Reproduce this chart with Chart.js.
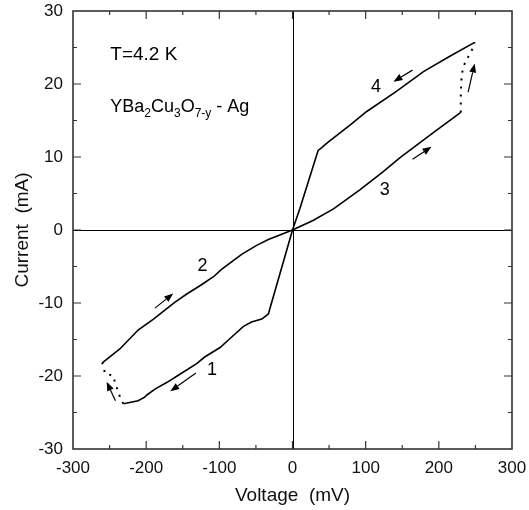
<!DOCTYPE html>
<html>
<head>
<meta charset="utf-8">
<script src="https://cdn.jsdelivr.net/npm/chart.js@4.4.0/dist/chart.umd.min.js"></script>
<style>
  html, body { margin: 0; padding: 0; background: #fff; }
  #wrap { width: 529px; height: 510px; }
</style>
</head>
<body>
<div id="wrap"><canvas id="ivChart"></canvas></div>
<script>
// I-V hysteresis loop (mV, mA)
const branch1V = [0, -33, -42, -56, -67, -88, -99, -120, -131, -156, -172, -188, -199, -202, -211, -231];
const branch1I = [0, -11.5, -12.2, -12.6, -13.2, -15.1, -16.1, -17.4, -18.3, -19.9, -20.9, -21.8, -22.6, -22.9, -23.4, -23.8];

const dotted1V = [-231, -234, -238, -242, -245, -251, -256, -260];
const dotted1I = [-23.8, -23.4, -22.2, -21.1, -20.0, -19.8, -19.7, -18.2];

const branch2V = [-260, -236, -211, -190, -161, -145, -126, -108, -97, -81, -69, -49, -33, 0];
const branch2I = [-18.2, -16.3, -13.7, -12.2, -9.9, -8.8, -7.6, -6.4, -5.4, -4.2, -3.3, -2.1, -1.3, 0];

const branch3V = [0, 28, 56, 74, 92, 124, 147, 192, 230];
const branch3I = [0, 1.3, 2.9, 4.2, 5.5, 8.0, 9.9, 13.3, 16.1];

const dotted2V = [230, 230, 230, 231, 233, 240, 247, 249];
const dotted2I = [16.1, 17.1, 18.7, 20.7, 22.3, 23.7, 25.0, 25.7];

const branch4V = [249, 215, 179, 142, 101, 79, 47, 40, 35, 10, 0];
const branch4I = [25.7, 23.8, 21.7, 19.0, 16.2, 14.4, 11.9, 11.3, 10.9, 2.9, 0];

// direction arrows
const arrowFromV = [-132, -188, 164, 164, 240, -242];
const arrowFromI = [-19.6, -10.7, 9.7, 21.9, 18.9, -23.4];
const arrowToV = [-167, -163, 190, 138, 249, -254];
const arrowToI = [-22.1, -8.7, 11.4, 20.3, 22.8, -20.8];

// branch numbers
const branchLabels = ['1', '2', '3', '4'];
const labelV = [-110, -123, 126, 114];
const labelI = [-19.2, -4.9, 5.5, 19.6];

const xTicks = [-300, -200, -100, 0, 100, 200, 300];
const yTicks = [-30, -20, -10, 0, 10, 20, 30];

function pts(vs, is) {
    return vs.map(function (v, k) { return { x: v, y: is[k] }; });
}

function line(vs, is, dotted) {
    return {
        data: pts(vs, is),
        showLine: true,
        borderColor: '#000',
        borderWidth: dotted ? 2 : 1.6,
        borderDash: dotted ? [2, 6] : [],
        pointRadius: 0,
        tension: 0,
        fill: false
    };
}

const FONT = '"Liberation Sans", Arial, sans-serif';
const FRAME = '#333';

function drawFrame(chart) {
    const c = chart.ctx, a = chart.chartArea;
    const xs = chart.scales.x, ys = chart.scales.y;
    const L = a.left, R = a.right, T = a.top, B = a.bottom;
    c.save();
    c.setLineDash([]);
    c.strokeStyle = '#000';
    c.lineWidth = 1;
    c.beginPath();
    c.moveTo(Math.round(xs.getPixelForValue(0)) + 0.5, T);
    c.lineTo(Math.round(xs.getPixelForValue(0)) + 0.5, B);
    c.moveTo(L, Math.round(ys.getPixelForValue(0)) + 0.5);
    c.lineTo(R, Math.round(ys.getPixelForValue(0)) + 0.5);
    c.stroke();
    // box
    c.strokeStyle = FRAME;
    c.lineWidth = 1.6;
    c.strokeRect(L, T, R - L, B - T);
    // inward ticks
    c.lineWidth = 1.2;
    c.beginPath();
    for (let v = -250; v <= 250; v += 50) {
        const len = (v % 100 === 0) ? 8 : 4;
        const px = xs.getPixelForValue(v);
        c.moveTo(px, B); c.lineTo(px, B - len);
        c.moveTo(px, T); c.lineTo(px, T + len);
    }
    for (let v = -25; v <= 25; v += 5) {
        const len = (v % 10 === 0) ? 8 : 4;
        const py = ys.getPixelForValue(v);
        c.moveTo(L, py); c.lineTo(L + len, py);
        c.moveTo(R, py); c.lineTo(R - len, py);
    }
    c.stroke();
    c.restore();
}

function drawNotes(chart) {
    const c = chart.ctx;
    const xs = chart.scales.x, ys = chart.scales.y;
    c.save();
    c.setLineDash([]);
    c.fillStyle = '#000';
    c.strokeStyle = '#000';
    c.lineWidth = 1.2;
    for (let k = 0; k < arrowFromV.length; k++) {
        const x0 = xs.getPixelForValue(arrowFromV[k]), y0 = ys.getPixelForValue(arrowFromI[k]);
        const x1 = xs.getPixelForValue(arrowToV[k]), y1 = ys.getPixelForValue(arrowToI[k]);
        const ang = Math.atan2(y1 - y0, x1 - x0);
        const hl = 9, hw = 3.5;
        const bx = x1 - hl * Math.cos(ang), by = y1 - hl * Math.sin(ang);
        c.beginPath();
        c.moveTo(x0, y0);
        c.lineTo(bx, by);
        c.stroke();
        c.beginPath();
        c.moveTo(x1, y1);
        c.lineTo(bx - hw * Math.sin(ang), by + hw * Math.cos(ang));
        c.lineTo(bx + hw * Math.sin(ang), by - hw * Math.cos(ang));
        c.closePath();
        c.fill();
    }
    c.textAlign = 'center';
    c.textBaseline = 'middle';
    c.font = '18px ' + FONT;
    branchLabels.forEach(function (t, k) {
        c.fillText(t, xs.getPixelForValue(labelV[k]), ys.getPixelForValue(labelI[k]));
    });
    c.textAlign = 'left';
    c.textBaseline = 'alphabetic';
    c.font = '19px ' + FONT;
    const tx = xs.getPixelForValue(-249);
    c.fillText('T=4.2 K', tx, ys.getPixelForValue(23.3));
    let x = tx;
    const y = ys.getPixelForValue(16.2);
    const parts = [['YBa', 0], ['2', 1], ['Cu', 0], ['3', 1], ['O', 0], ['7-y', 1], [' - Ag', 0]];
    parts.forEach(function (p) {
        c.font = (p[1] ? '12px ' : '18px ') + FONT;
        c.fillText(p[0], x, y + (p[1] ? 5 : 0));
        x += c.measureText(p[0]).width;
    });
    c.restore();
}

const decor = {
    id: 'decor',
    afterDraw(chart) {
        drawFrame(chart);
        drawNotes(chart);
    }
};

function noPad(s) {
    s.paddingLeft = 0; s.paddingRight = 0; s.paddingTop = 0; s.paddingBottom = 0;
}

document.addEventListener('DOMContentLoaded', function () {
    const ctx = document.getElementById('ivChart').getContext('2d');
    new Chart(ctx, {
        type: 'scatter',
        data: {
            datasets: [
                line(branch1V, branch1I, false),
                line(dotted1V, dotted1I, true),
                line(branch2V, branch2I, false),
                line(branch3V, branch3I, false),
                line(dotted2V, dotted2I, true),
                line(branch4V, branch4I, false)
            ]
        },
        options: {
            responsive: true,
            maintainAspectRatio: false,
            animation: false,
            devicePixelRatio: 1,
            layout: { padding: { top: 11, right: 17, left: 0, bottom: 0 } },
            plugins: { legend: { display: false }, tooltip: { enabled: false } },
            scales: {
                x: {
                    type: 'linear', min: -300, max: 300,
                    afterBuildTicks: function (s) { s.ticks = xTicks.map(function (v) { return { value: v }; }); },
                    afterFit: function (s) { s.height = 61; noPad(s); },
                    grid: { display: false, drawTicks: false },
                    border: { display: false },
                    ticks: { color: '#111', padding: 9, maxRotation: 0, font: { size: 17, family: FONT } },
                    title: { display: true, text: 'Voltage  (mV)', color: '#111', padding: { top: 0, bottom: 3 }, font: { size: 19, family: FONT } }
                },
                y: {
                    type: 'linear', min: -30, max: 30,
                    afterBuildTicks: function (s) { s.ticks = yTicks.map(function (v) { return { value: v }; }); },
                    afterFit: function (s) { s.width = 73; noPad(s); },
                    grid: { display: false, drawTicks: false },
                    border: { display: false },
                    ticks: { color: '#111', padding: 10, font: { size: 17, family: FONT } },
                    title: { display: true, text: 'Current  (mA)', color: '#111', padding: { top: 11, bottom: 0 }, font: { size: 19, family: FONT } }
                }
            }
        },
        plugins: [decor]
    });
});
</script>
</body>
</html>
